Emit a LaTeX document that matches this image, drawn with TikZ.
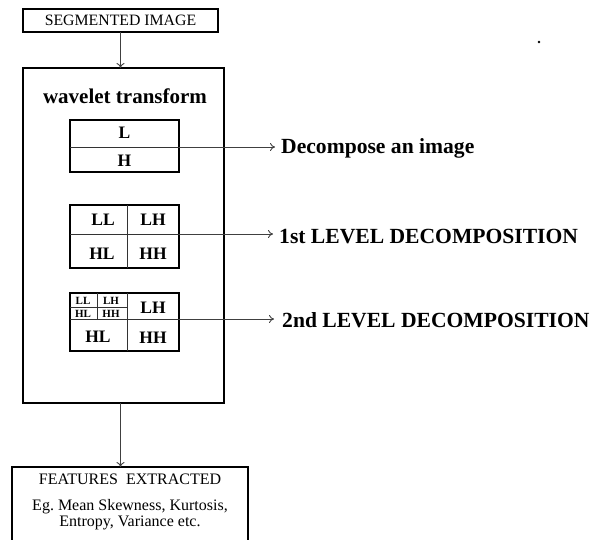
\documentclass[tikz,border=0pt]{standalone}
\usepackage{fontspec}
\setmainfont{Liberation Serif}
\usetikzlibrary{arrows.meta}
\begin{document}
\begin{tikzpicture}[x=1pt,y=-1pt,
 box/.style={draw, line width=1.8pt, inner sep=0pt, outer sep=0pt},
 divline/.style={line width=0.9pt, draw=black!80},
 arr/.style={line width=0.9pt, draw=black!75, -{To[length=5pt,width=8pt]}},
 lab/.style={anchor=west, font=\fontsize{21.6}{24}\selectfont\bfseries, inner sep=0pt},
 cell/.style={font=\fontsize{17.5}{19}\selectfont\bfseries, inner sep=0pt},
 tiny/.style={font=\fontsize{11}{11}\selectfont\bfseries, inner sep=0pt},
 plain/.style={font=\fontsize{16}{18}\selectfont, inner sep=0pt}]
\useasboundingbox (0,0) rectangle (597,539);

% top box
\node[box, minimum width=195pt, minimum height=23pt, font=\fontsize{15.8}{17}\selectfont] (seg) at (120.5,20.5) {SEGMENTED IMAGE};

% wavelet transform box
\node[box, minimum width=201pt, minimum height=335pt] (wt) at (123.5,235.5) {};
\node[font=\fontsize{21}{24}\selectfont\bfseries, inner sep=0pt] (wtl) at (125,96) {wavelet transform};

% box 1: L / H
\node[box, minimum width=109pt, minimum height=52pt] (b1) at (124.5,146) {};
\coordinate (b1m) at (70,147);
\coordinate (b1e) at (179,147);
\draw[divline] (b1m) -- (b1e);
\node[cell] (cL) at (124.5,133) {L};
\node[cell] (cH) at (124.5,161) {H};
\node[lab] (l1) at (281,148) {Decompose an image};
\draw[arr] (b1e) -- (l1.west |- b1e) [shorten >=6pt];

% box 2: first level
\node[box, minimum width=109pt, minimum height=63pt] (b2) at (124.5,236.5) {};
\coordinate (b2w) at (70,234);
\coordinate (b2e) at (179,234);
\draw[divline] (b2w) -- (b2e);
\draw[divline] (b2.north -| 127,0) -- (b2.south -| 127,0);
\node[cell] (c2a) at (103,220) {LL};
\node[cell] (c2b) at (153,220) {LH};
\node[cell] (c2c) at (102,254) {HL};
\node[cell] (c2d) at (153,254) {HH};
\node[lab] (l2) at (279,237) {1st LEVEL DECOMPOSITION};
\draw[arr] (b2e) -- (l2.west |- b2e) [shorten >=6pt];

% box 3: second level
\node[box, minimum width=109pt, minimum height=58pt] (b3) at (124.5,322) {};
\coordinate (b3w) at (70,319);
\coordinate (b3e) at (179,319);
\draw[divline] (b3w) -- (b3e);
\draw[divline] (b3.north -| 127,0) -- (b3.south -| 127,0);
\draw[divline] (97,293) -- (97,319);
\draw[divline] (70,307) -- (127,307);
\node[tiny] (s1) at (83,301) {LL};
\node[tiny] (s2) at (111,301) {LH};
\node[tiny] (s3) at (83,313.5) {HL};
\node[tiny] (s4) at (111,313.5) {HH};
\node[cell] (c3b) at (153,308) {LH};
\node[cell] (c3c) at (98,337) {HL};
\node[cell] (c3d) at (153,338) {HH};
\node[lab] (l3) at (282,320) {2nd LEVEL DECOMPOSITION};
\draw[arr] (b3e) -- (l3.west |- b3e) [shorten >=8pt];

% features box (runs off the bottom)
\node[box, minimum width=236pt, minimum height=90pt] (feat) at (130,512) {};
\node[plain] (f1) at (130,479) {FEATURES\ \ EXTRACTED};
\node[plain] (f2) at (130,507) {Eg.\ Mean Skewness, Kurtosis,};
\node[plain] (f3) at (130,523) {Entropy, Variance etc.};

% vertical connectors
\draw[arr] (seg.south) -- (seg.south |- wt.north);
\draw[arr] (wt.south -| seg.south) -- (feat.north -| seg.south);

% stray dot
\fill (539,42) circle (1.3pt);
\end{tikzpicture}
\end{document}
